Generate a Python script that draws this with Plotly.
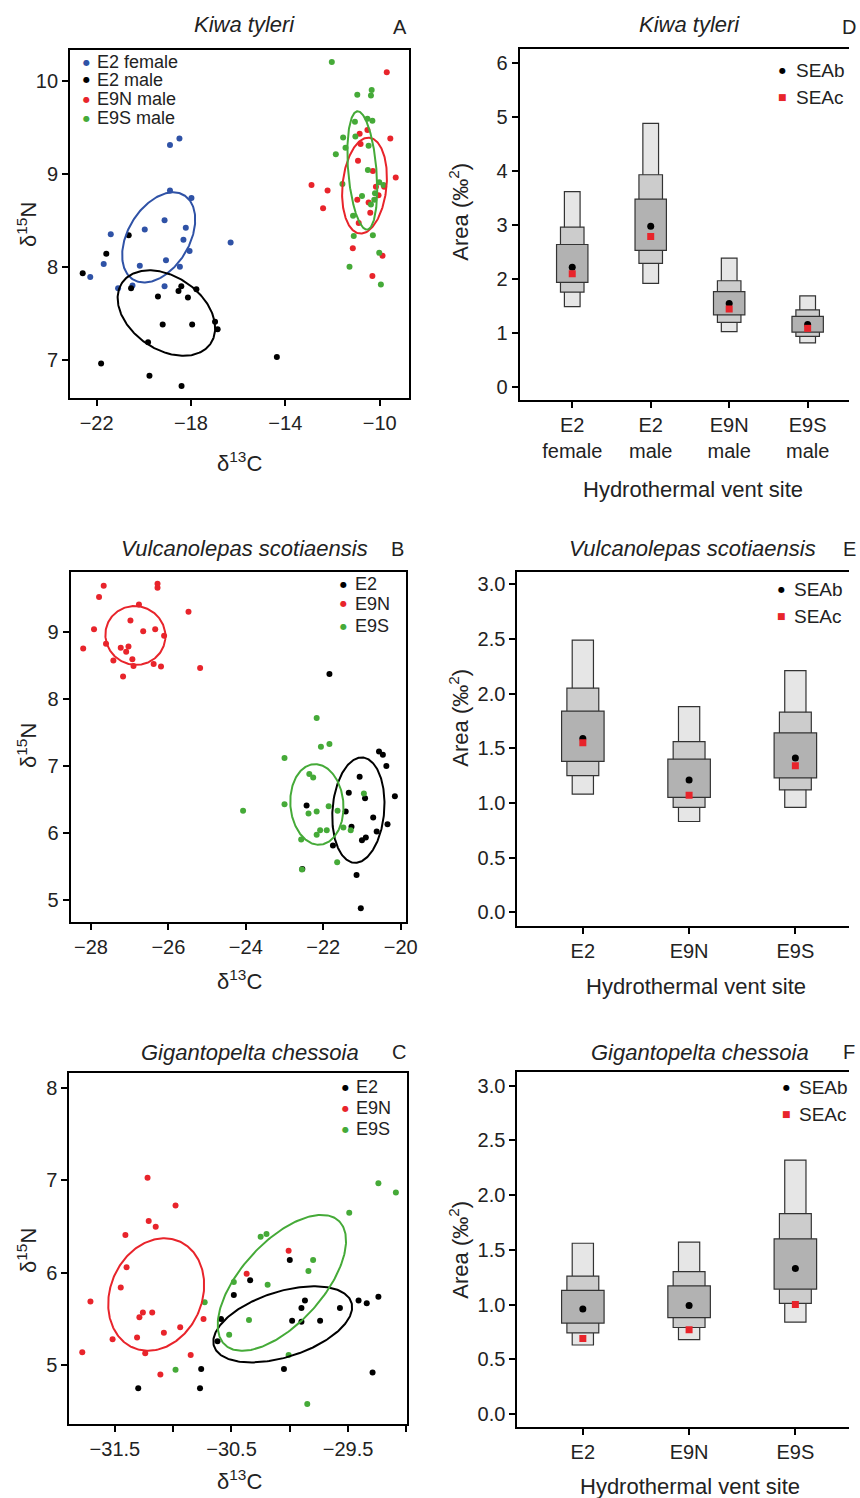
import numpy as np
import plotly.graph_objects as go

W, H = 860, 1498

# ---------------- Panel A: Kiwa tyleri ----------------
A_e2f_x = [-18.49, -18.89, -18.89, -17.98, -19.12, -18.22, -19.96, -18.32, -21.40, -18.06, -16.32,
           -19.06, -21.70, -20.17, -18.47, -22.27, -20.48, -19.12, -21.09]
A_e2f_y = [9.38, 9.31, 8.82, 8.74, 8.50, 8.42, 8.40, 8.29, 8.35, 8.17, 8.26,
           8.07, 8.03, 8.01, 8.00, 7.89, 7.80, 7.79, 7.77]
A_e2m_x = [-20.64, -21.59, -22.59, -20.54, -18.41, -18.53, -17.77, -19.40, -18.13, -19.20, -17.95,
           -16.98, -16.87, -19.82, -21.81, -19.76, -18.40, -14.36]
A_e2m_y = [8.34, 8.14, 7.93, 7.77, 7.79, 7.74, 7.76, 7.68, 7.67, 7.38, 7.38,
           7.41, 7.33, 7.19, 6.96, 6.83, 6.72, 7.03]
A_e9n_x = [-9.70, -9.55, -10.52, -10.85, -10.81, -10.92, -10.29, -9.32, -12.89, -12.21, -10.16,
           -10.05, -9.81, -10.95, -10.47, -12.40, -10.40, -10.89, -11.14, -9.88, -10.31]
A_e9n_y = [10.09, 9.38, 9.47, 9.43, 9.32, 9.14, 9.03, 8.96, 8.88, 8.82, 8.86,
           8.77, 8.86, 8.72, 8.69, 8.63, 8.58, 8.47, 8.20, 8.12, 7.90]
A_e9s_x = [-12.03, -10.34, -10.37, -10.95, -11.05, -10.52, -10.31, -11.55, -11.03, -11.45, -10.47,
           -11.86, -10.50, -11.58, -10.02, -9.84, -10.20, -10.75, -10.23, -10.37, -11.13, -11.10,
           -10.29, -10.02, -11.28, -9.95]
A_e9s_y = [10.20, 9.90, 9.84, 9.85, 9.56, 9.59, 9.57, 9.39, 9.40, 9.28, 9.30,
           9.21, 9.04, 8.89, 8.91, 8.88, 8.79, 8.76, 8.72, 8.67, 8.55, 8.33,
           8.34, 8.15, 8.00, 7.81]

# ---------------- Panel B: Vulcanolepas scotiaensis ----------------
B_e2_x = [-21.84, -20.56, -20.46, -20.37, -21.06, -20.92, -20.15, -22.43, -21.34, -21.42, -20.71,
          -20.34, -21.27, -20.62, -20.90, -21.00, -21.75, -21.14, -21.03, -22.54]
B_e2_y = [8.38, 7.22, 7.17, 7.00, 6.84, 6.52, 6.55, 6.41, 6.60, 6.32, 6.23,
          6.13, 6.09, 6.02, 5.93, 5.89, 5.81, 5.37, 4.87, 5.46]
B_e9n_x = [-27.67, -26.28, -26.28, -27.79, -26.76, -25.48, -26.98, -27.92, -26.65, -26.34, -26.11,
           -27.61, -28.20, -27.23, -27.03, -27.09, -27.42, -26.93, -26.90, -26.38, -26.19, -25.18, -27.17]
B_e9n_y = [9.70, 9.73, 9.67, 9.53, 9.42, 9.31, 9.18, 9.05, 9.02, 9.05, 8.95,
           8.83, 8.76, 8.77, 8.79, 8.71, 8.58, 8.60, 8.50, 8.53, 8.49, 8.47, 8.34]
B_e9s_x = [-22.17, -22.06, -21.84, -23.00, -22.36, -22.26, -20.95, -23.00, -21.86, -22.38, -22.17,
           -21.63, -21.48, -21.29, -22.08, -21.91, -22.17, -22.57, -22.55, -21.64, -24.07]
B_e9s_y = [7.72, 7.29, 7.33, 7.12, 6.88, 6.83, 6.59, 6.43, 6.40, 6.29, 6.32,
           6.33, 6.08, 6.04, 6.04, 6.04, 5.97, 5.90, 5.45, 5.56, 6.33]

# ---------------- Panel C: Gigantopelta chessoia ----------------
C_e2_x = [-31.30, -30.77, -30.76, -30.48, -30.59, -30.62, -30.00, -30.34, -29.87, -29.90, -29.57,
          -29.41, -29.34, -29.24, -29.98, -29.90, -29.74, -30.05, -29.29]
C_e2_y = [4.75, 4.75, 4.96, 5.76, 5.50, 5.26, 6.14, 5.92, 5.70, 5.62, 5.62,
          5.70, 5.67, 5.74, 5.48, 5.47, 5.48, 4.96, 4.92]
C_e9n_x = [-31.22, -30.98, -31.21, -31.15, -31.41, -31.40, -31.45, -31.71, -31.26, -31.29, -31.18,
           -30.74, -30.94, -31.08, -31.31, -31.52, -31.24, -31.78, -30.85, -31.11, -30.01, -30.37]
C_e9n_y = [7.03, 6.73, 6.56, 6.50, 6.41, 6.06, 5.84, 5.69, 5.57, 5.52, 5.57,
           5.50, 5.41, 5.35, 5.30, 5.28, 5.13, 5.14, 5.11, 4.90, 6.24, 5.99]
C_e9s_x = [-30.73, -30.98, -30.48, -30.52, -29.24, -29.09, -29.49, -30.25, -30.20, -29.80, -29.84,
           -30.19, -30.35, -30.01, -29.85]
C_e9s_y = [5.68, 4.95, 5.90, 5.33, 6.97, 6.87, 6.65, 6.39, 6.42, 6.14, 6.02,
           5.87, 5.49, 5.11, 4.58]

# ---------------- SEA posterior summaries (D, E, F) ----------------
D_cats = ["E2<br>female", "E2<br>male", "E9N<br>male", "E9S<br>male"]
D_95_lo = [1.49, 1.92, 1.03, 0.82]
D_95_hi = [3.62, 4.88, 2.39, 1.69]
D_75_lo = [1.76, 2.29, 1.20, 0.94]
D_75_hi = [2.96, 3.93, 1.97, 1.43]
D_50_lo = [1.94, 2.53, 1.34, 1.02]
D_50_hi = [2.64, 3.48, 1.77, 1.31]
D_seab = [2.22, 2.98, 1.55, 1.16]
D_seac = [2.10, 2.79, 1.45, 1.09]

E_cats = ["E2", "E9N", "E9S"]
E_95_lo = [1.08, 0.83, 0.96]
E_95_hi = [2.49, 1.88, 2.21]
E_75_lo = [1.25, 0.96, 1.12]
E_75_hi = [2.05, 1.56, 1.83]
E_50_lo = [1.38, 1.05, 1.23]
E_50_hi = [1.84, 1.40, 1.64]
E_seab = [1.59, 1.21, 1.41]
E_seac = [1.55, 1.07, 1.34]

F_cats = ["E2", "E9N", "E9S"]
F_95_lo = [0.63, 0.68, 0.84]
F_95_hi = [1.56, 1.57, 2.32]
F_75_lo = [0.74, 0.79, 1.01]
F_75_hi = [1.26, 1.30, 1.83]
F_50_lo = [0.83, 0.88, 1.14]
F_50_hi = [1.13, 1.17, 1.60]
F_seab = [0.96, 0.99, 1.33]
F_seac = [0.69, 0.77, 1.00]

BLUE = "#2F52A6"
BLACK = "#000000"
RED = "#E8242B"
GREEN = "#45AA38"
FONT = "Liberation Sans, Arial, Helvetica, sans-serif"
TXT = "#222222"

# the rendered page comes out slightly narrower than its nominal width;
# positions below are given in reference pixels and mapped with this factor
K = 0.988
WE = W * K


def px(x):
    return min(x / WE, 1.0)


def py(y):
    return 1 - y / H


def lin_range(p_lo, p_hi, p_a, v_a, p_b, v_b):
    """axis range for pixel span [p_lo, p_hi] given two pixel/value anchors"""
    s = (v_b - v_a) / (p_b - p_a)
    return [v_a + (p_lo - p_a) * s, v_a + (p_hi - p_a) * s]


def sea_c(x, y, npts=241):
    x = np.asarray(x, float)
    y = np.asarray(y, float)
    n = len(x)
    S = np.cov(x, y)
    vals, vecs = np.linalg.eigh(S)
    r = np.sqrt(vals * (n - 1) / (n - 2))
    t = np.linspace(0, 2 * np.pi, npts)
    circ = np.vstack([np.cos(t), np.sin(t)])
    pts = vecs @ (r[:, None] * circ)
    return pts[0] + x.mean(), pts[1] + y.mean()


fig = go.Figure()


def add_group(x, y, color, xa, ya):
    fig.add_trace(go.Scatter(x=x, y=y, mode="markers", xaxis=xa, yaxis=ya, showlegend=False,
                             marker=dict(size=6, color=color, line=dict(width=0)), hoverinfo="x+y"))


def add_ell(x, y, color, xa, ya):
    ex, ey = sea_c(x, y)
    fig.add_trace(go.Scatter(x=ex, y=ey, mode="lines", xaxis=xa, yaxis=ya, showlegend=False,
                             line=dict(color=color, width=2), hoverinfo="skip"))


groupsA = [(A_e2f_x, A_e2f_y, BLUE), (A_e2m_x, A_e2m_y, BLACK),
           (A_e9n_x, A_e9n_y, RED), (A_e9s_x, A_e9s_y, GREEN)]
groupsB = [(B_e2_x, B_e2_y, BLACK), (B_e9n_x, B_e9n_y, RED), (B_e9s_x, B_e9s_y, GREEN)]
groupsC = [(C_e2_x, C_e2_y, BLACK), (C_e9n_x, C_e9n_y, RED), (C_e9s_x, C_e9s_y, GREEN)]
for groups, xa, ya in [(groupsA, "x", "y"), (groupsB, "x3", "y3"), (groupsC, "x5", "y5")]:
    for gx, gy, c in groups:
        add_group(gx, gy, c, xa, ya)
    for gx, gy, c in groups:
        add_ell(gx, gy, c, xa, ya)


def add_sea(cats, lo95, hi95, lo75, hi75, lo50, hi50, seab, seac, xa, ya):
    for lo, hi, wd, col in [(lo95, hi95, 0.2, "#E6E6E6"), (lo75, hi75, 0.3, "#CCCCCC"),
                            (lo50, hi50, 0.4, "#B2B2B2")]:
        fig.add_trace(go.Bar(x=cats, y=[h - l for h, l in zip(hi, lo)], base=lo, width=wd,
                             xaxis=xa, yaxis=ya, showlegend=False,
                             marker=dict(color=col, line=dict(color="#333333", width=1.2))))
    fig.add_trace(go.Scatter(x=cats, y=seab, mode="markers", xaxis=xa, yaxis=ya, showlegend=False,
                             marker=dict(size=7, color=BLACK, symbol="circle")))
    fig.add_trace(go.Scatter(x=cats, y=seac, mode="markers", xaxis=xa, yaxis=ya, showlegend=False,
                             marker=dict(size=7, color=RED, symbol="square")))


add_sea(D_cats, D_95_lo, D_95_hi, D_75_lo, D_75_hi, D_50_lo, D_50_hi, D_seab, D_seac, "x2", "y2")
add_sea(E_cats, E_95_lo, E_95_hi, E_75_lo, E_75_hi, E_50_lo, E_50_hi, E_seab, E_seac, "x4", "y4")
add_sea(F_cats, F_95_lo, F_95_hi, F_75_lo, F_75_hi, F_50_lo, F_50_hi, F_seab, F_seac, "x6", "y6")

axbase = dict(showline=True, linecolor="black", linewidth=1.8, ticks="outside", ticklen=6,
              tickwidth=1.5, tickcolor="black", showgrid=False, zeroline=False,
              tickfont=dict(size=20, family=FONT, color=TXT))

right_edge = min(W, WE)  # reference pixel reached by paper x = 1

layout = dict(
    width=W, height=H, margin=dict(l=0, r=0, t=0, b=0), paper_bgcolor="white",
    plot_bgcolor="white", barmode="overlay", showlegend=False, font=dict(family=FONT, color=TXT),
    # A
    xaxis=dict(axbase, domain=[px(70), px(409)], range=lin_range(70, 409, 96.7, -22, 380, -10),
               tickvals=[-22, -18, -14, -10], mirror=True, anchor="y"),
    yaxis=dict(axbase, domain=[py(398), py(50)], range=[6.59, 10.33], tickvals=[7, 8, 9, 10],
               mirror=True, anchor="x"),
    # D
    xaxis2=dict(axbase, domain=[px(520), 1.0], type="category",
                range=lin_range(520, right_edge, 572.7, 0, 808.3, 3), mirror=True, anchor="y2"),
    yaxis2=dict(axbase, domain=[py(400), py(49.3)], range=[-0.235, 6.25],
                tickvals=[0, 1, 2, 3, 4, 5, 6], anchor="x2"),
    # B
    xaxis3=dict(axbase, domain=[px(70.7), px(406.7)], range=lin_range(70.7, 406.7, 91, -28, 401, -20),
                tickvals=[-28, -26, -24, -22, -20], mirror=True, anchor="y3"),
    yaxis3=dict(axbase, domain=[py(921.7), py(571.7)], range=[4.67, 9.91], tickvals=[5, 6, 7, 8, 9],
                mirror=True, anchor="x3"),
    # E
    xaxis4=dict(axbase, domain=[px(517.7), 1.0], type="category",
                range=lin_range(517.7, right_edge, 583.3, 0, 796, 2), mirror=True, anchor="y4"),
    yaxis4=dict(axbase, domain=[py(925.7), py(571.7)], range=[-0.123, 3.115],
                tickvals=[0, 0.5, 1, 1.5, 2, 2.5, 3], tickformat=".1f", anchor="x4"),
    # C
    xaxis5=dict(axbase, domain=[px(69.3), px(407.3)],
                range=lin_range(69.3, 407.3, 115, -31.5, 406.7, -29.0),
                tickvals=[-31.5, -30.5, -29.5],
                minor=dict(tickvals=[-31, -30, -29], ticks="outside", ticklen=6, tickwidth=1.5,
                           tickcolor="black"),
                mirror=True, anchor="y5"),
    yaxis5=dict(axbase, domain=[py(1424.3), py(1073.3)], range=[4.36, 8.16], tickvals=[5, 6, 7, 8],
                mirror=True, anchor="x5"),
    # F
    xaxis6=dict(axbase, domain=[px(517.7), 1.0], type="category",
                range=lin_range(517.7, right_edge, 583.3, 0, 796, 2), mirror=True, anchor="y6"),
    yaxis6=dict(axbase, domain=[py(1427.3), py(1072.3)], range=[-0.122, 3.122],
                tickvals=[0, 0.5, 1, 1.5, 2, 2.5, 3], tickformat=".1f", anchor="x6"),
)
fig.update_layout(**layout)

ann = []


def text(x, y, s, size=20, xanchor="center", yanchor="middle", angle=0, italic=False, color=TXT,
         family=FONT):
    ann.append(dict(x=px(x), y=py(y), xref="paper", yref="paper", text=s, showarrow=False,
                    xanchor=xanchor, yanchor=yanchor, textangle=angle,
                    font=dict(size=size, family=family, color=color,
                              style="italic" if italic else "normal")))


# titles and panel letters
text(245, 25, "Kiwa tyleri", 22, italic=True)
text(690, 25, "Kiwa tyleri", 22, italic=True)
text(245, 549, "Vulcanolepas scotiaensis", 22, italic=True)
text(693, 549, "Vulcanolepas scotiaensis", 22, italic=True)
text(250, 1052, "Gigantopelta chessoia", 22, italic=True)
text(701, 1052, "Gigantopelta chessoia", 22, italic=True)
for lx, ly, lt in [(400, 27, "A"), (851, 27, "D"), (398, 549, "B"), (851, 549, "E"),
                   (399, 1052, "C"), (853, 1052, "F")]:
    text(lx, ly, lt, 20)

# axis titles
d13 = "\u03b4<sup>13</sup>C"
d15 = "\u03b4<sup>15</sup>N"
area = "Area (\u2030<sup>2</sup>)"
hv = "Hydrothermal vent site"
text(240, 462, d13, 22)
text(240, 980, d13, 22)
text(240, 1480, d13, 22)
text(27, 224, d15, 22, angle=-90)
text(27, 745, d15, 22, angle=-90)
text(27, 1250, d15, 22, angle=-90)
text(459, 212, area, 22, angle=-90)
text(459, 718, area, 22, angle=-90)
text(459, 1250, area, 22, angle=-90)
text(694, 490, hv, 22)
text(697, 986, hv, 22)
text(691, 1486, hv, 22)

# legends
MK = "DejaVu Sans"


def legend(mx, tx, rows, items, size):
    for yy, (lab, col, sym) in zip(rows, items):
        text(mx, yy, sym, 8 if sym == "\u25cf" else 9, color=col, family=MK)
        text(tx, yy, lab, size, xanchor="left")


legend(87, 95, [62, 80, 99, 118],
       [("E2 female", BLUE, "\u25cf"), ("E2 male", BLACK, "\u25cf"),
        ("E9N male", RED, "\u25cf"), ("E9S male", GREEN, "\u25cf")], 18)
legend(344, 353, [584, 604, 626],
       [("E2", BLACK, "\u25cf"), ("E9N", RED, "\u25cf"), ("E9S", GREEN, "\u25cf")], 18)
legend(346, 354, [1087, 1108, 1129],
       [("E2", BLACK, "\u25cf"), ("E9N", RED, "\u25cf"), ("E9S", GREEN, "\u25cf")], 18)
legend(783, 795, [70, 97], [("SEAb", BLACK, "\u25cf"), ("SEAc", RED, "\u25a0")], 19)
legend(782, 793, [589, 616], [("SEAb", BLACK, "\u25cf"), ("SEAc", RED, "\u25a0")], 19)
legend(787, 798, [1087, 1114], [("SEAb", BLACK, "\u25cf"), ("SEAc", RED, "\u25a0")], 19)

fig.update_layout(annotations=ann)
fig.write_html("out.html")
